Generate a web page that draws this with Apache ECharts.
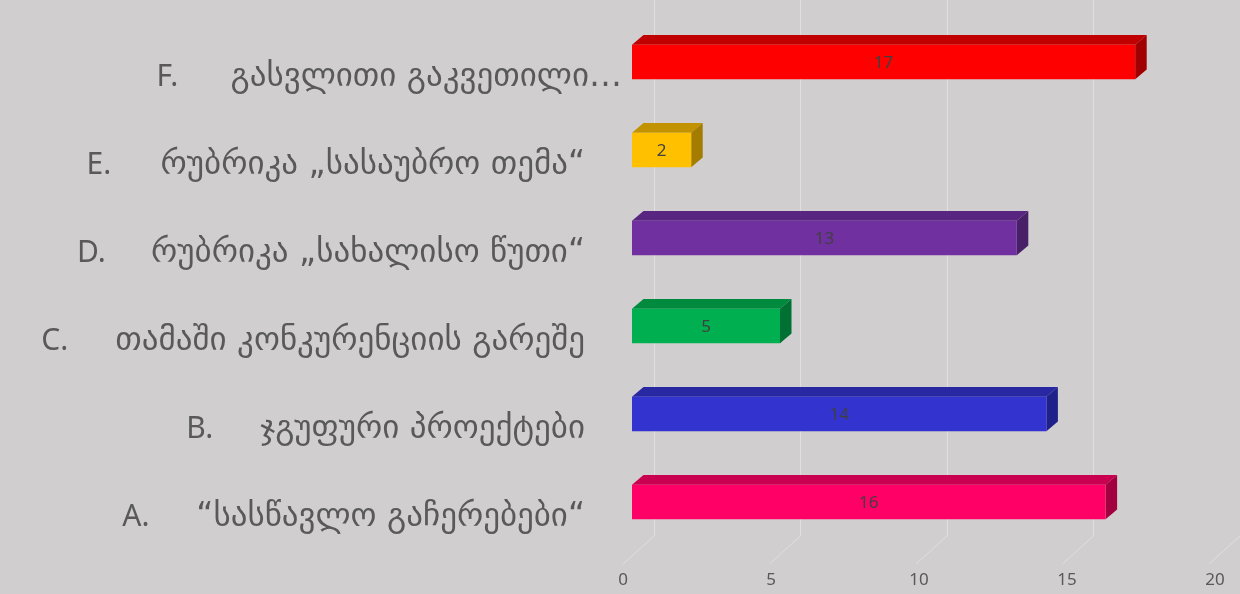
<!DOCTYPE html>
<html>
<head>
<meta charset="utf-8">
<script src="https://cdn.jsdelivr.net/npm/echarts@6/dist/echarts.min.js"></script>
<style>
html,body{margin:0;padding:0;background:#d0cece;}
#c{width:1240px;height:594px;}
</style>
</head>
<body>
<div id="c"></div>
<script>
// ---- data ----
const letters = ['A.', 'B.', 'C.', 'D.', 'E.', 'F.'];
const categories = [
  '“სასწავლო გაჩერებები“',
  'ჯგუფური პროექტები',
  'თამაში კონკურენციის გარეშე',
  'რუბრიკა „სახალისო წუთი“',
  'რუბრიკა „სასაუბრო თემა“',
  'გასვლითი გაკვეთილი…'
];
const values = [16, 14, 5, 13, 2, 17];
const xTicks = [0, 5, 10, 15, 20];

// ---- styles ----
const faceColors = [
  {front: '#ff0066', top: '#c8004f', side: '#a3003f'},
  {front: '#3333d0', top: '#2828a2', side: '#20208a'},
  {front: '#00b050', top: '#008a3e', side: '#007033'},
  {front: '#7030a0', top: '#582680', side: '#482068'},
  {front: '#ffc000', top: '#c39200', side: '#a37c00'},
  {front: '#ff0000', top: '#c00000', side: '#a00000'}
];
const DX = 11.5, DY = 9.7, BAR_H = 34.5;
const FLOOR_DX = -31, FLOOR_DY = 28;

const chart = echarts.init(document.getElementById('c'));

function barItem(params, api) {
  const idx = api.value(0);
  const v = api.value(1);
  const s = api.coord([0, idx]);
  const e = api.coord([v, idx]);
  const x0 = s[0], x1 = e[0];
  const yT = s[1] - BAR_H / 2, yB = s[1] + BAR_H / 2;
  const c = faceColors[idx];
  return {
    type: 'group',
    children: [
      {type: 'polygon', shape: {points: [[x0, yT], [x0 + DX, yT - DY], [x1 + DX, yT - DY], [x1, yT]]},
        style: {fill: c.top}},
      {type: 'polygon', shape: {points: [[x1, yT], [x1 + DX, yT - DY], [x1 + DX, yB - DY], [x1, yB]]},
        style: {fill: c.side}},
      {type: 'rect', shape: {x: x0, y: yT, width: x1 - x0, height: BAR_H},
        style: {fill: c.front}},
      {type: 'text', x: (x0 + x1) / 2, y: s[1] + 1,
        style: {text: String(v), fill: '#404040', font: '17px "Noto Sans", "DejaVu Sans"',
          align: 'center', verticalAlign: 'middle'}}
    ]
  };
}

function floorItem(params, api) {
  const p = api.coord([api.value(0), 0]);
  return {
    type: 'line',
    shape: {x1: p[0], y1: p[1], x2: p[0] + FLOOR_DX, y2: p[1] + FLOOR_DY},
    style: {stroke: '#e0e0e0', lineWidth: 1}
  };
}

chart.setOption({
  backgroundColor: '#d0cece',
  animation: false,
  grid: [
    {left: 632, width: 592, top: 18, bottom: 48},     // bars (front faces)
    {left: 623, width: 592, top: 560, bottom: 30},    // axis labels (front floor)
    {left: 654, width: 592, top: 0, bottom: 58}       // back wall
  ],
  xAxis: [
    {gridIndex: 0, type: 'value', min: 0, max: 20, interval: 5, show: false},
    {gridIndex: 1, type: 'value', min: 0, max: 20, interval: 5,
      axisLine: {show: false}, axisTick: {show: false}, splitLine: {show: false},
      axisLabel: {color: '#595959', fontSize: 17, margin: 8,
        fontFamily: '"Noto Sans", "DejaVu Sans"'}},
    {gridIndex: 2, type: 'value', min: 0, max: 20, interval: 5,
      axisLine: {show: false}, axisTick: {show: false}, axisLabel: {show: false},
      splitLine: {show: true, lineStyle: {color: '#e0e0e0', width: 1}}}
  ],
  yAxis: [
    {gridIndex: 0, type: 'category', data: categories,
      axisLine: {show: false}, axisTick: {show: false}, splitLine: {show: false},
      axisLabel: {
        margin: 10,
        padding: [30, 0, 0, 0],
        formatter: function (val, i) {
          const last = i === categories.length - 1;
          return '{l|' + letters[i] + '}{t|' + val + '}' + (last ? '' : '{s| }');
        },
        rich: {
          l: {width: 74, align: 'left', color: '#595959', fontSize: 30,
            fontFamily: '"Noto Sans", "DejaVu Sans"'},
          t: {color: '#595959', fontSize: 33, fontFamily: '"DejaVu Sans"'},
          s: {width: 37, fontSize: 30}
        }
      }},
    {gridIndex: 1, type: 'value', min: 0, max: 1, show: false},
    {gridIndex: 2, type: 'value', min: 0, max: 1, show: false}
  ],
  series: [
    {type: 'custom', xAxisIndex: 2, yAxisIndex: 2, renderItem: floorItem,
      data: xTicks.map(t => [t]), z: 1, silent: true},
    {type: 'custom', xAxisIndex: 0, yAxisIndex: 0, renderItem: barItem,
      encode: {x: 1, y: 0},
      data: values.map((v, i) => [i, v]), z: 5}
  ]
});
</script>
</body>
</html>
